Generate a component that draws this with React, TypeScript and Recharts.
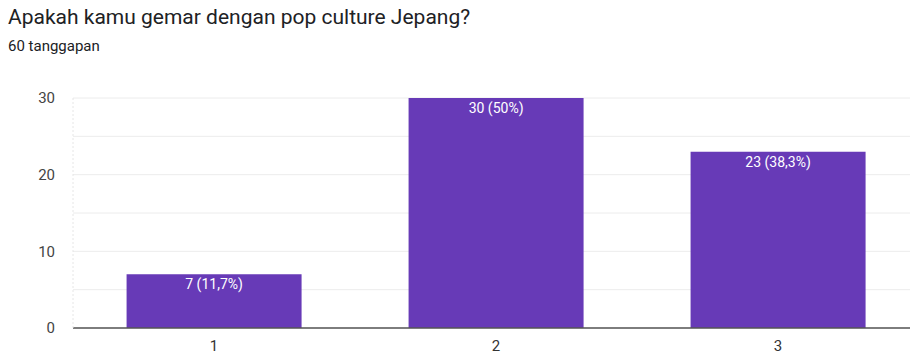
import { BarChart, Bar, XAxis, YAxis, CartesianGrid, LabelList } from "recharts";

const answers = ["1", "2", "3"];
const counts = [7, 30, 23];
const percents = ["11,7%", "50%", "38,3%"];
const yTicks = [0, 10, 20, 30];
const gridValues = [0, 5, 10, 15, 20, 25, 30];

const data = answers.map((answer, i) => ({
  answer,
  count: counts[i],
  label: `${counts[i]} (${percents[i]})`,
}));

const App = () => {
  return (
    <div
      style={{
        position: "absolute",
        top: 0,
        left: 0,
        width: 910,
        height: 354,
        overflow: "hidden",
        background: "#fff",
        fontFamily: "Roboto, Arial, sans-serif",
      }}
    >
      <div
        style={{
          position: "absolute",
          left: 8,
          top: 5,
          fontSize: 21,
          color: "#202124",
          whiteSpace: "nowrap",
        }}
      >
        Apakah kamu gemar dengan pop culture Jepang?
      </div>
      <div
        style={{
          position: "absolute",
          left: 8,
          top: 37,
          fontSize: 15,
          color: "#202124",
          whiteSpace: "nowrap",
        }}
      >
        60 tanggapan
      </div>

      <BarChart
        width={930}
        height={354}
        data={data}
        margin={{ top: 98, right: 11, bottom: 0, left: 0 }}
        barCategoryGap="19%"
      >
        {/* light grid every 5 responses */}
        <CartesianGrid vertical={false} stroke="#ececec" horizontalValues={gridValues} />
        <XAxis
          dataKey="answer"
          height={26}
          tickLine={false}
          tickSize={0}
          tickMargin={12}
          axisLine={{ stroke: "#555", strokeWidth: 1.5 }}
          tick={{ fill: "#333", fontSize: 15 }}
        />
        <YAxis
          width={73}
          domain={[0, 30]}
          ticks={yTicks}
          tickLine={false}
          tickSize={0}
          tickMargin={18}
          axisLine={{ stroke: "#e6e6e6", strokeDasharray: "2 2" }}
          tick={{ fill: "#444", fontSize: 15 }}
        />
        <Bar dataKey="count" fill="#673ab7" isAnimationActive={false}>
          <LabelList dataKey="label" position="insideTop" offset={5} fill="#fff" fontSize={14} />
        </Bar>
      </BarChart>
    </div>
  );
};

export default App;
